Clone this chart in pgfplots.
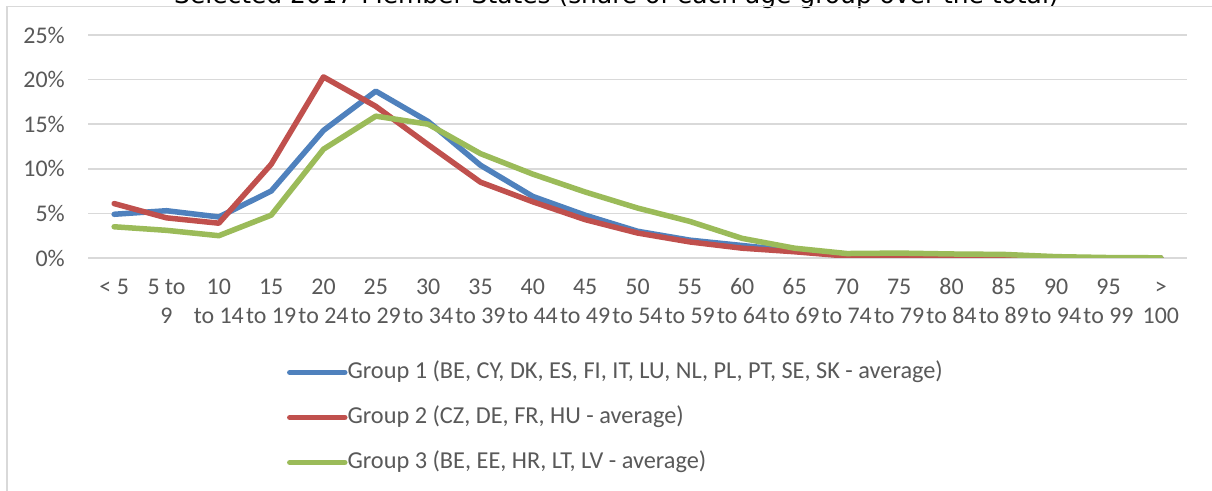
\documentclass[border=0pt]{standalone}
\usepackage{pgfplots}
\pgfplotsset{compat=1.18}
\usepackage{fontspec}
\setmainfont{Carlito}
\newfontfamily\titlefont{DejaVu Sans}

\definecolor{txt}{HTML}{595959}
\definecolor{gridc}{HTML}{D9D9D9}
\definecolor{gone}{HTML}{4F81BD}
\definecolor{gtwo}{HTML}{C0504D}
\definecolor{gthree}{HTML}{9BBB59}

\begin{document}
\begin{tikzpicture}[x=1bp,y=1bp]
\clip (0,0) rectangle (1212,491);
\fill[white] (0,0) rectangle (1212,491);
% title of the figure, cut at the top edge
\node[anchor=base west, inner sep=0pt, font=\titlefont\fontsize{25}{30}\selectfont]
  at (174,487.5) {Selected 2017 Member States (share of each age group over the total)};
% chart area frame
\draw[gridc, line width=1.5bp] (6.75,0) -- (6.75,484.25) -- (1212,484.25);

\begin{axis}[
    at={(88bp,233bp)}, anchor=south west,
    width=1099bp, height=223bp, scale only axis,
    xmin=-0.5, xmax=20.5,
    ymin=0, ymax=25,
    axis line style={draw=none},
    major tick length=0pt,
    ytick={0,5,10,15,20,25},
    ymajorgrids,
    grid style={gridc, line width=1.5bp},
    /pgf/number format/assume math mode=true,
    yticklabel={\pgfmathprintnumber{\tick}\%},
    yticklabel style={anchor=east, inner sep=0pt, xshift=-23bp, text=txt,
        font=\fontsize{24}{29}\selectfont},
    xtick={0,...,20},
    xticklabels={{\strut< 5},{\strut5 to\\9},{\strut10\\to 14},{\strut15\\to 19},
        {\strut20\\to 24},{\strut25\\to 29},{\strut30\\to 34},{\strut35\\to 39},
        {\strut40\\to 44},{\strut45\\to 49},{\strut50\\to 54},{\strut55\\to 59},
        {\strut60\\to 64},{\strut65\\to 69},{\strut70\\to 74},{\strut75\\to 79},
        {\strut80\\to 84},{\strut85\\to 89},{\strut90\\to 94},{\strut95\\to 99},
        {\strut>\\100}},
    xticklabel style={align=center, anchor=north, inner sep=0pt, yshift=-16.5bp,
        text=txt, font=\fontsize{24}{29}\selectfont},
    every axis plot/.append style={line width=5.5bp, line join=round, line cap=round},
    legend image code/.code={
        \path (0bp,0bp) -- (55bp,0bp);
        \draw[#1, line width=4.5bp, line cap=round] (2.25bp,0bp) -- (52.75bp,0bp);
    },
    legend cell align=left,
    legend style={
        at={(rel axis cs:0.1811,-0.4664)}, anchor=north west,
        draw=none, fill=none, inner sep=0pt, outer sep=0pt,
        row sep=24bp, column sep=0bp,
        nodes={inner sep=0pt, text height=16bp, text depth=5bp},
        font=\fontsize{24.4}{29}\selectfont, text=txt,
    },
]

% Group 1
\addplot[gone] coordinates {
    (0,4.9) (1,5.3) (2,4.6) (3,7.5) (4,14.3) (5,18.7) (6,15.3) (7,10.4)
    (8,6.9) (9,4.8) (10,3.0) (11,2.0) (12,1.4) (13,0.8) (14,0.25) (15,0.15)
    (16,0.08) (17,0.05) (18,0.02) (19,0.01) (20,0.0)
};
\addlegendentry{Group 1 (BE, CY, DK, ES, FI, IT, LU, NL, PL, PT, SE, SK - average)}

% Group 2
\addplot[gtwo] coordinates {
    (0,6.1) (1,4.5) (2,3.9) (3,10.5) (4,20.3) (5,17.0) (6,12.7) (7,8.5)
    (8,6.3) (9,4.3) (10,2.8) (11,1.8) (12,1.1) (13,0.7) (14,0.22) (15,0.15)
    (16,0.06) (17,0.03) (18,0.01) (19,0.0) (20,0.0)
};
\addlegendentry{Group 2 (CZ, DE, FR, HU - average)}

% Group 3
\addplot[gthree] coordinates {
    (0,3.5) (1,3.1) (2,2.5) (3,4.8) (4,12.2) (5,15.9) (6,15.0) (7,11.7)
    (8,9.4) (9,7.4) (10,5.6) (11,4.1) (12,2.2) (13,1.1) (14,0.5) (15,0.55)
    (16,0.45) (17,0.4) (18,0.15) (19,0.05) (20,0.02)
};
\addlegendentry{Group 3 (BE, EE, HR, LT, LV - average)}

\end{axis}
\end{tikzpicture}
\end{document}
